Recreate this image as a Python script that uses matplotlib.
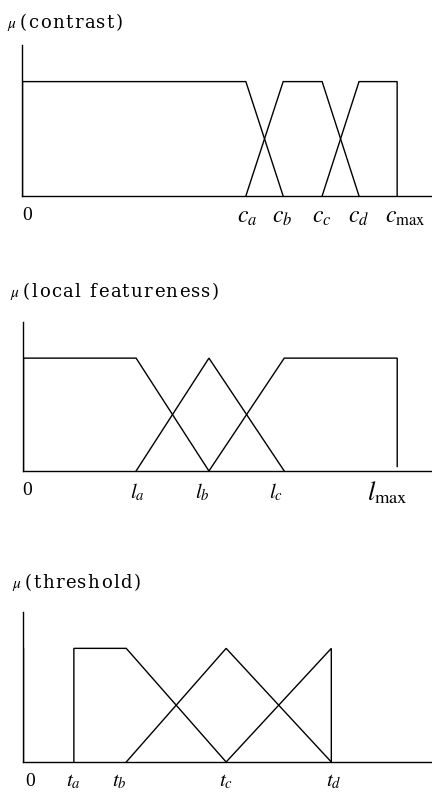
import matplotlib
matplotlib.use("Agg")
import matplotlib.pyplot as plt

plt.rcParams['font.family'] = ['Liberation Serif', 'DejaVu Serif']
plt.rcParams['mathtext.fontset'] = 'stix'

# breakpoints (x axis runs 0..10)
c_pts = [5.46, 6.37, 7.32, 8.22, 9.15]   # c_a c_b c_c c_d c_max
l_pts = [2.77, 4.55, 6.39, 9.15]         # l_a l_b l_c l_max
t_pts = [1.25, 2.53, 4.97, 7.54]         # t_a t_b t_c t_d

c_labels = ['0', '$c_a$', '$c_b$', '$c_c$', '$c_d$', '$c_{\\rm max}$']
l_labels = ['0', '$l_a$', '$l_b$', '$l_c$', '$l_{\\rm max}$']
t_labels = ['0', '$t_a$', '$t_b$', '$t_c$', '$t_d$']

titles = ['(contrast)', '(local featureness)', '(threshold)']

# membership functions: (x, mu)
ca, cb, cc, cd, cm = c_pts
contrast_curves = [
    ([0, ca, cb], [1, 1, 0]),
    ([ca, cb, cc, cd], [0, 1, 1, 0]),
    ([cc, cd, cm, cm], [0, 1, 1, 0]),
]
la, lb, lc, lm = l_pts
local_curves = [
    ([0, la, lb], [1, 1, 0]),
    ([la, lb, lc], [0, 1, 0]),
    ([lb, lc, lm, lm], [0, 1, 1, 0.04]),
]
ta, tb, tc, td = t_pts
thresh_curves = [
    ([ta, ta, tb, tc], [0, 1, 1, 0]),
    ([tb, tc, td], [0, 1, 0]),
    ([tc, td, td], [0, 1, 0]),
]

W, H = 432, 792
fig = plt.figure(figsize=(W / 100, H / 100), dpi=100)
renderer = fig.canvas.get_renderer()


def spaced_text(x_px, y_px, s, size, track):
    # the scanned titles are set wide, so lay the letters out one by one
    x = x_px
    for ch in s:
        if ch == ' ':
            x += size * 0.5 + track
            continue
        t = fig.text(x / W, 1 - y_px / H, ch, fontsize=size, ha='left',
                     va='baseline', family='DejaVu Serif')
        x += t.get_window_extent(renderer).width + track


# bottom px, top px, left px, title baseline px, title x px, curves, labels,
# label x, label size, label y
panels = [
    (196, 45, 22, 28, 20, contrast_curves, c_labels,
     [0.12, 5.5, 6.35, 7.3, 8.22, 8.85], 17, -0.19),
    (471, 322, 22.7, 297, 23, local_curves, l_labels,
     [0.1, 2.8, 4.4, 6.2, 8.4], 15, -0.19),
    (762, 612, 22.7, 588, 25, thresh_curves, t_labels,
     [0.18, 1.25, 2.35, 4.97, 7.6], 15, -0.17),
]

for i, (bot, top, left, ty, tx, curves, labels, lx, lsize, ly) in enumerate(panels):
    ax = fig.add_axes([left / W, 1 - bot / H, (W - left) / W, (bot - top) / H])
    ax.set_xlim(0, 10)
    ax.set_ylim(0, 1.32)
    for s in ['top', 'right']:
        ax.spines[s].set_visible(False)
    for s in ['left', 'bottom']:
        ax.spines[s].set_linewidth(1.0)
    ax.set_xticks([])
    ax.set_yticks([])
    ax.plot([0, 0], [0, 1], color='black', lw=1.0)
    for xs, ys in curves:
        ax.plot(xs, ys, color='black', lw=1.0, solid_joinstyle='miter')
    for x, lab in zip(lx, labels):
        if lab == '0':
            ax.text(x, -0.17, lab, ha='center', va='center', fontsize=14, clip_on=False)
        elif 'max' in lab:
            size = lsize if i == 0 else 19
            ax.text(x, ly, lab, ha='left', va='center', fontsize=size, clip_on=False)
        else:
            ax.text(x, ly, lab, ha='center', va='center', fontsize=lsize, clip_on=False)
    fig.text((tx - 13) / W, 1 - ty / H, r'$\mu$', fontsize=11, ha='left', va='baseline')
    spaced_text(tx, ty, titles[i], 13, 1.4)

fig.savefig('out.png', dpi=100)
